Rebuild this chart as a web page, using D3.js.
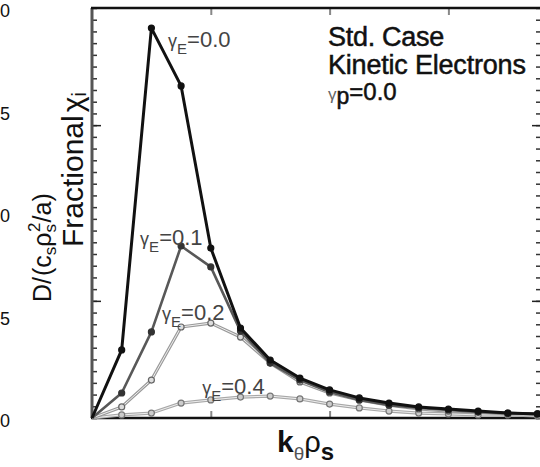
<!DOCTYPE html>
<html>
<head>
<meta charset="utf-8">
<script src="https://cdn.jsdelivr.net/npm/d3@7"></script>
<style>
  body { margin: 0; background: #fff; }
  svg { display: block; font-family: "Liberation Sans", Arial, sans-serif; }
</style>
</head>
<body>
<svg width="540" height="467"></svg>
<script>
// k_theta rho_s grid
const kTheta = [0, 0.1, 0.2, 0.3, 0.4, 0.5, 0.6, 0.7, 0.8, 0.9, 1.0, 1.1, 1.2, 1.3, 1.4, 1.5]

// fractional chi_i spectra for each gamma_E
const gammaE00 = [0, 0.0332, 0.1902, 0.1620, 0.0829, 0.0439, 0.0283, 0.0195, 0.0137, 0.0098, 0.0073, 0.0054, 0.0044, 0.0034, 0.0024, 0.0020]
const gammaE01 = [0, 0.0122, 0.0420, 0.0839, 0.0737, 0.0424, 0.0268, 0.0185, 0.0127, 0.0088, 0.0063, 0.0049, 0.0039, 0.0029, 0.0024, 0.0020]
const gammaE02 = [0, 0.0054, 0.0185, 0.0444, 0.0463, 0.0395, 0.0268, 0.0176, 0.0122, 0.0088, 0.0063, 0.0044, 0.0034, 0.0029, 0.0020, 0.0020]
const gammaE04 = [0, 0.0015, 0.0024, 0.0073, 0.0088, 0.0102, 0.0107, 0.0093, 0.0068, 0.0049, 0.0034, 0.0024, 0.0020, 0.0015, 0.0015, 0.0010]

// only the last digit of each y label is visible in the figure
const yTickValues = [0, 0.05, 0.10, 0.15, 0.20]
const yTickLabels = ["0", "5", "0", "5", "0"]
const xTickValues = [0.4, 0.8, 1.2]

window.addEventListener('load', () => {
    draw()
})

function draw() {
    const svg = d3.select("svg")
    const plot = {left: 92, right: 541, top: 8, bottom: 418}

    const x = d3.scaleLinear().domain([0, 1.5]).range([plot.left, plot.left + 29.7 * 15])
    const y = d3.scaleLinear().domain([0, 0.2]).range([plot.bottom, plot.top])

    // minor ticks (35 divisions), a few longer ones
    const minor = d3.range(36).map(i => i * 0.2 / 35)
    const longOnes = minor.filter((d, i) => i === 10 || i === 25)

    const leftAx = svg.append("g")
        .attr("transform", "translate(" + plot.left + ",0)")
        .call(d3.axisLeft(y).tickValues(minor).tickSize(-5).tickFormat(""))
    leftAx.select(".domain").remove()
    leftAx.selectAll("line").attr("stroke", "#333").attr("stroke-width", 1.5)

    const leftLong = svg.append("g")
        .attr("transform", "translate(" + plot.left + ",0)")
        .call(d3.axisLeft(y).tickValues(longOnes).tickSize(-9).tickFormat(""))
    leftLong.select(".domain").remove()
    leftLong.selectAll("line").attr("stroke", "#222").attr("stroke-width", 1.5)

    const rightAx = svg.append("g")
        .attr("transform", "translate(" + plot.right + ",0)")
        .call(d3.axisRight(y).tickValues(minor).tickSize(-5).tickFormat(""))
    rightAx.select(".domain").remove()
    rightAx.selectAll("line").attr("stroke", "#333").attr("stroke-width", 1.5)

    const rightLong = svg.append("g")
        .attr("transform", "translate(" + plot.right + ",0)")
        .call(d3.axisRight(y).tickValues(longOnes).tickSize(-9).tickFormat(""))
    rightLong.select(".domain").remove()
    rightLong.selectAll("line").attr("stroke", "#222").attr("stroke-width", 1.5)

    // y tick labels at the very left edge
    const yLab = svg.append("g")
        .attr("transform", "translate(10,3)")
        .call(d3.axisLeft(y).tickValues(yTickValues).tickSize(0).tickPadding(0)
            .tickFormat((d, i) => yTickLabels[i]))
    yLab.select(".domain").remove()
    yLab.selectAll("text")
        .attr("font-family", "Liberation Sans, Arial, sans-serif")
        .attr("font-size", 18)
        .attr("fill", "#111")

    const bottomAx = svg.append("g")
        .attr("transform", "translate(0," + plot.bottom + ")")
        .call(d3.axisBottom(x).tickValues(xTickValues).tickSize(-7).tickFormat(""))
    bottomAx.select(".domain").remove()
    bottomAx.selectAll("line").attr("stroke", "#888").attr("stroke-width", 2)

    const topAx = svg.append("g")
        .attr("transform", "translate(0," + plot.top + ")")
        .call(d3.axisTop(x).tickValues(xTickValues).tickSize(-7).tickFormat(""))
    topAx.select(".domain").remove()
    topAx.selectAll("line").attr("stroke", "#888").attr("stroke-width", 2)

    // frame
    svg.append("line").attr("x1", plot.left).attr("x2", plot.left)
        .attr("y1", plot.top).attr("y2", plot.bottom)
        .attr("stroke", "#555").attr("stroke-width", 3)
    svg.append("line").attr("x1", plot.left - 1).attr("x2", plot.right)
        .attr("y1", plot.top).attr("y2", plot.top)
        .attr("stroke", "#111").attr("stroke-width", 2.5)
    svg.append("line").attr("x1", plot.left - 1).attr("x2", plot.right)
        .attr("y1", plot.bottom).attr("y2", plot.bottom)
        .attr("stroke", "#111").attr("stroke-width", 2.5)

    const line = d3.line()
        .x((d, i) => x(kTheta[i]))
        .y(d => y(d))

    const series = [
        {id: "g04", values: gammaE04, stroke: "#a8a8a8", width: 3.2, inner: "#eee", mFill: "#ccc", mStroke: "#777"},
        {id: "g02", values: gammaE02, stroke: "#9a9a9a", width: 3.2, inner: "#eee", mFill: "#ddd", mStroke: "#666"},
        {id: "g01", values: gammaE01, stroke: "#585858", width: 2.6, inner: null, mFill: "#333", mStroke: "#333"},
        {id: "g00", values: gammaE00, stroke: "#111", width: 3, inner: null, mFill: "#111", mStroke: "#111"}
    ]

    const g = svg.selectAll(".series")
        .data(series)
        .enter().append("g")
        .attr("class", d => "series " + d.id)

    g.append("path")
        .attr("d", d => line(d.values))
        .attr("fill", "none")
        .attr("stroke", d => d.stroke)
        .attr("stroke-width", d => d.width)
        .attr("stroke-linejoin", "round")

    g.filter(d => d.inner).append("path")
        .attr("d", d => line(d.values))
        .attr("fill", "none")
        .attr("stroke", d => d.inner)
        .attr("stroke-width", 1)

    g.selectAll("circle")
        .data(d => d.values.map((v, i) => ({v: v, i: i, s: d})).filter(p => p.i > 0))
        .enter().append("circle")
        .attr("cx", p => x(kTheta[p.i]))
        .attr("cy", p => y(p.v))
        .attr("r", 3)
        .attr("fill", p => p.s.mFill)
        .attr("stroke", p => p.s.mStroke)
        .attr("stroke-width", 1.2)

    // gamma_E labels
    const gLabels = [
        {text: "0.0", kx: 0.256, vy: 0.181},
        {text: "0.1", kx: 0.162, vy: 0.0844},
        {text: "0.2", kx: 0.236, vy: 0.0478},
        {text: "0.4", kx: 0.371, vy: 0.0117}
    ]
    gLabels.forEach(l => {
        const t = svg.append("text")
            .attr("x", x(l.kx))
            .attr("y", y(l.vy))
            .attr("fill", "#444")
        t.append("tspan").attr("font-size", 18).text("γ")
        t.append("tspan").attr("font-size", 15).attr("dy", 7).text("E")
        t.append("tspan").attr("font-size", 22).attr("dy", -7).text("=" + l.text)
    })

    // case description
    const info = svg.append("g").attr("fill", "#111")
        .attr("stroke", "#111").attr("stroke-width", 0.5)
    info.append("text").attr("x", 328).attr("y", 46).attr("font-size", 27)
        .attr("letter-spacing", -0.3).text("Std. Case")
    info.append("text").attr("x", 328).attr("y", 74).attr("font-size", 27)
        .attr("letter-spacing", -0.2).text("Kinetic Electrons")
    const gp = info.append("text").attr("x", 328).attr("y", 100)
    gp.append("tspan").attr("font-size", 17).attr("fill", "#666").attr("stroke", "none").text("γ")
    gp.append("tspan").attr("font-size", 23).attr("dy", 4).text("p")
    gp.append("tspan").attr("font-size", 24).attr("dy", -4).text("=0.0")

    // x label
    const xl = svg.append("text").attr("x", 277).attr("y", 452).attr("fill", "#111")
    xl.append("tspan").attr("font-size", 30).attr("font-weight", "bold").text("k")
    xl.append("tspan").attr("font-size", 19).attr("dy", 8).attr("fill", "#555").text("θ")
    xl.append("tspan").attr("font-size", 29).attr("dy", -8).text("ρ")
    xl.append("tspan").attr("font-size", 24).attr("dy", 8).attr("font-weight", "bold").text("s")

    // overlapping y labels
    const yl1 = svg.append("text")
        .attr("transform", "translate(83,247) rotate(-90)")
        .attr("fill", "#111")
        .attr("font-size", 30)
    yl1.append("tspan").text("Fractional")
    yl1.append("tspan").attr("dx", 3).text("χ")
    yl1.append("tspan").attr("font-size", 20).attr("dy", 3).text("i")

    const yl2 = svg.append("text")
        .attr("transform", "translate(51,302) rotate(-90)")
        .attr("fill", "#111")
        .attr("font-size", 25)
    yl2.append("tspan").text("D")
    yl2.append("tspan").text("/")
    yl2.append("tspan").attr("dx", 1).text("(c")
    yl2.append("tspan").attr("font-size", 17).attr("dy", 5).text("s")
    yl2.append("tspan").attr("dy", -5).text("ρ")
    yl2.append("tspan").attr("font-size", 17).attr("dy", 5).text("s")
    yl2.append("tspan").attr("font-size", 17).attr("dy", -16).attr("dx", -8).text("2")
    yl2.append("tspan").attr("dy", 11).text("/a)")
}
</script>
</body>
</html>
